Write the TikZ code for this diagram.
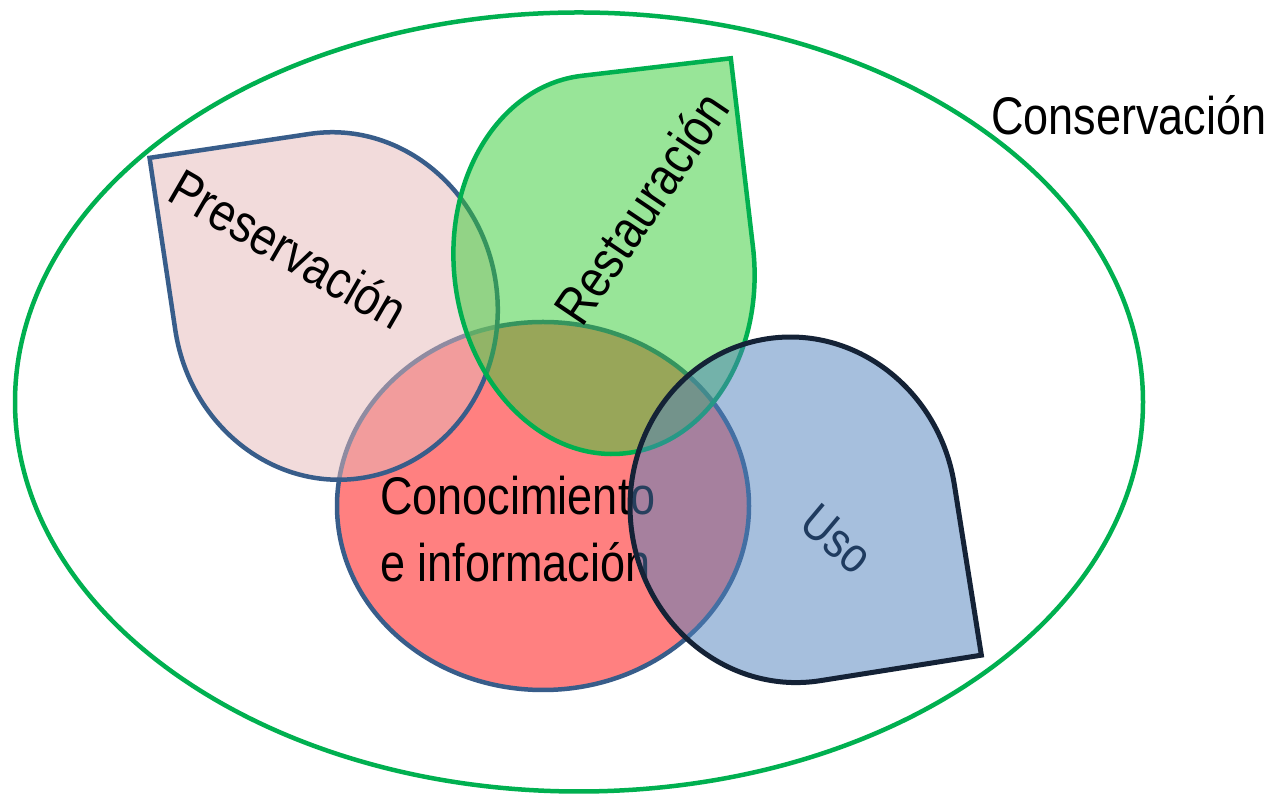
\documentclass[tikz,border=0pt]{standalone}
\usepackage{fontspec}
\setmainfont{Liberation Sans}[FakeStretch=0.85]
\definecolor{cgreen}{HTML}{00B050}
\definecolor{presfill}{HTML}{E6B9B8}
\definecolor{bordblue}{HTML}{385D8A}
\definecolor{conofill}{HTML}{FF8080}
\definecolor{restfill}{HTML}{33CC33}
\definecolor{usofill}{HTML}{4F81BD}
\definecolor{usoline}{HTML}{142236}
\definecolor{usotext}{HTML}{1F3B5F}
\begin{document}
\begin{tikzpicture}[x=1pt,y=1pt,
  lbl/.style={inner sep=0pt, text=black, font=\fontsize{53}{63}\selectfont},
  outerring/.style={draw=cgreen, line width=4.5pt},
  presshape/.style={fill=presfill, fill opacity=0.5, draw=bordblue, line width=4.5pt, line join=miter},
  conoshape/.style={fill=conofill, draw=bordblue, line width=4.5pt},
  restshape/.style={fill=restfill, fill opacity=0.5, draw=cgreen, line width=4.5pt, line join=miter},
  usoshape/.style={fill=usofill, fill opacity=0.5, draw=usoline, line width=5pt, line join=miter}]
\useasboundingbox (0,0) rectangle (1272,794);
\fill[white] (0,0) rectangle (1272,794);

% outer conservation ellipse
\draw[outerring] (579,392) ellipse[x radius=564, y radius=389.5];
\node[lbl, anchor=base west] (conservacion) at (991,659) {Conservación};

% Conocimiento e informacion
\draw[conoshape] (543,288) ellipse[x radius=206, y radius=184];
\node[lbl, anchor=base west] (conoc1) at (380,279) {Conocimiento};
\node[lbl, anchor=base west] (conoc2) at (380,212) {e información};

% Preservacion teardrop
\begin{scope}[shift={(335.5,488)}, rotate=8.5]
\path[presshape] (0,174) -- (-162,174) -- (-162,0)
  arc[start angle=180, end angle=450, x radius=162, y radius=174] -- cycle;
\end{scope}
\node[lbl, rotate=-30] (preservacion) at (289,545) {Preservación};

% Restauracion teardrop
\begin{scope}[shift={(604,529.5)}, rotate=6.7]
\path[restshape] (150,0) -- (150,190) -- (0,190)
  arc[start angle=90, end angle=360, x radius=150, y radius=190] -- cycle;
\end{scope}
\node[lbl, rotate=56] (restauracion) at (641,586) {Restauración};

% Uso teardrop
\begin{scope}[shift={(793.3,284.2)}, rotate=9]
\path[usoshape] (0,-173) -- (163,-173) -- (163,0)
  arc[start angle=0, end angle=270, x radius=163, y radius=173] -- cycle;
\end{scope}
\node[lbl, text=usotext, font=\fontsize{50}{60}\selectfont, rotate=-40] (uso) at (837,255) {Uso};
\end{tikzpicture}
\end{document}
